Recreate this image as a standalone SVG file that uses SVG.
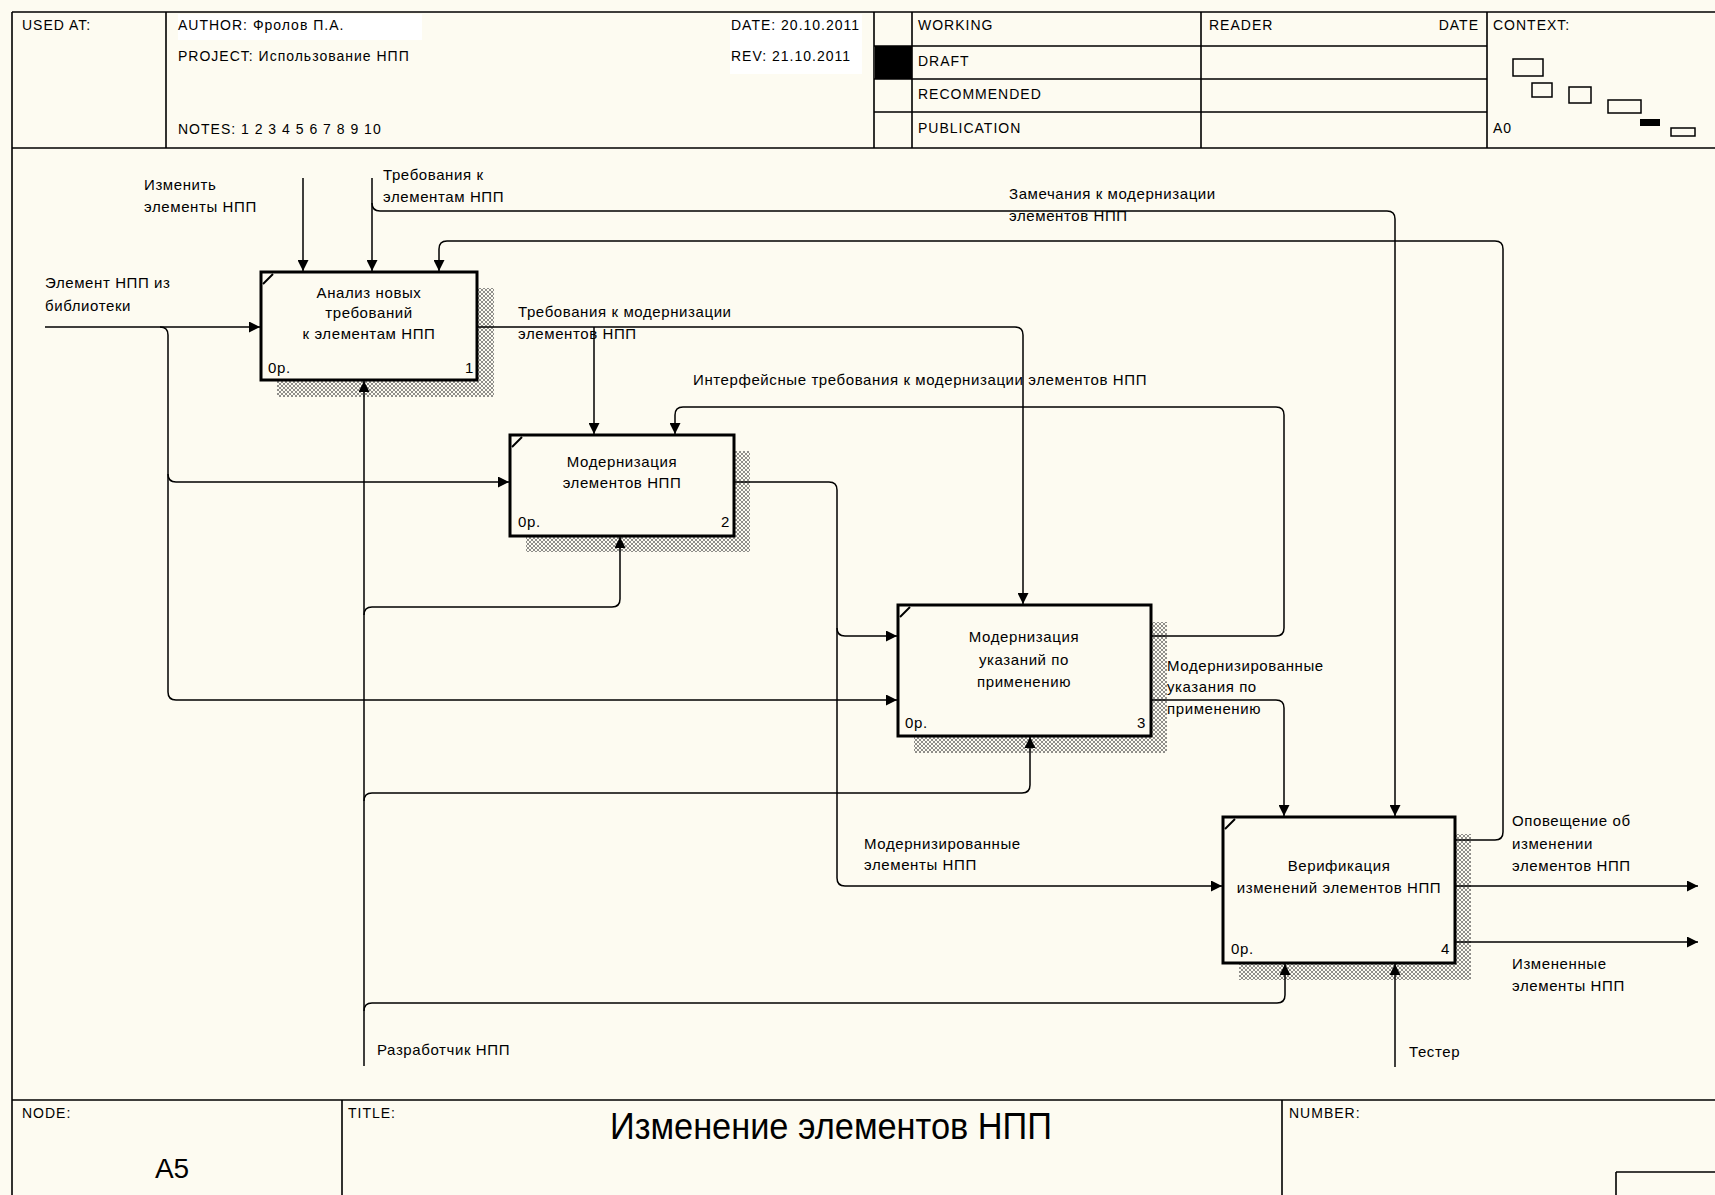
<svg xmlns="http://www.w3.org/2000/svg" width="1715" height="1195" viewBox="0 0 1715 1195">
  <style>
    .t { font-family: "Liberation Sans", Arial, sans-serif; font-size: 15px; letter-spacing: 0.6px; fill: #000; }
    .h { font-family: "Liberation Sans", Arial, sans-serif; font-size: 14px; letter-spacing: 1px; fill: #000; }
    .frame { stroke: #000; stroke-width: 1.6; fill: none; }
    .box { fill: #fdfbf1; stroke: #000; stroke-width: 3; }
    .shadow { fill: url(#hatch); }
    .corner { stroke: #000; stroke-width: 2; fill: none; }
    .arc-end { fill: none; stroke: #000; stroke-width: 1.5; marker-end: url(#arrow); }
    .mid { text-anchor: middle; }
  </style>
  <defs>
    <pattern id="hatch" width="4" height="4" patternUnits="userSpaceOnUse">
      <rect width="4" height="4" fill="#fdfbf1"/>
      <path d="M0,4 L4,0 M0,0 L4,4" stroke="#444" stroke-width="0.6"/>
    </pattern>
    <marker id="arrow" viewBox="0 0 10 10" refX="10" refY="5" markerWidth="13" markerHeight="11" markerUnits="userSpaceOnUse" orient="auto">
      <path d="M0,0 L10,5 L0,10 z" fill="#000"/>
    </marker>
  </defs>

  <rect width="1715" height="1195" fill="#fdfbf1"/>

  <!-- header block -->
  <g id="header">
    <rect x="178" y="14" width="244" height="26" fill="#ffffff"/>
    <rect x="730" y="14" width="132" height="60" fill="#ffffff"/>
    <path class="frame" d="M12,12 H1715 M12,148 H1715 M12,12 V1195 M166,12 V148"/>
    <path class="frame" d="M874,12 V148 M912,12 V148 M1201,12 V148 M1487,12 V148 M874,46 H1487 M874,79 H1487 M874,112 H1487"/>
    <rect x="875" y="46" width="37" height="33" fill="#000"/>
    <text class="h" x="22" y="30">USED AT:</text>
    <text class="h" x="178" y="30">AUTHOR: Фролов П.А.</text>
    <text class="h" x="178" y="61">PROJECT: Использование НПП</text>
    <text class="h" x="178" y="134">NOTES: 1 2 3 4 5 6 7 8 9 10</text>
    <text class="h" x="731" y="30">DATE: 20.10.2011</text>
    <text class="h" x="731" y="61">REV: 21.10.2011</text>
    <text class="h" x="918" y="30">WORKING</text>
    <text class="h" x="918" y="66">DRAFT</text>
    <text class="h" x="918" y="99">RECOMMENDED</text>
    <text class="h" x="918" y="133">PUBLICATION</text>
    <text class="h" x="1209" y="30">READER</text>
    <text class="h" x="1479" y="30" text-anchor="end">DATE</text>
    <text class="h" x="1493" y="30">CONTEXT:</text>
    <text class="h" x="1493" y="133">A0</text>
    <g fill="none" stroke="#000" stroke-width="1.5">
      <rect x="1513" y="59" width="30" height="17"/>
      <rect x="1532" y="83" width="20" height="14"/>
      <rect x="1569" y="87" width="22" height="16"/>
      <rect x="1608" y="100" width="33" height="13"/>
      <rect x="1671" y="128" width="24" height="8"/>
    </g>
    <rect x="1640" y="119" width="20" height="7" fill="#000"/>
  </g>

  <!-- footer block -->
  <g id="footer">
    <path class="frame" d="M12,1100 H1715 M342,1100 V1195 M1282,1100 V1195 M1616,1172 H1715 M1616,1172 V1195"/>
    <text class="h" x="22" y="1118">NODE:</text>
    <text class="h" x="348" y="1118">TITLE:</text>
    <text class="h" x="1289" y="1118">NUMBER:</text>
    <text x="831" y="1139" text-anchor="middle" font-family="Liberation Sans, Arial, sans-serif" font-size="36" textLength="442" lengthAdjust="spacingAndGlyphs">Изменение элементов НПП</text>
    <text x="172" y="1178" text-anchor="middle" font-family="Liberation Sans, Arial, sans-serif" font-size="28">A5</text>
  </g>

  <!-- activity boxes -->
  <g id="box1">
    <rect class="shadow" x="277" y="288" width="217" height="109"/>
    <rect class="box" x="261" y="272" width="216" height="108"/>
    <path class="corner" d="M263,284 L273,274"/>
    <text class="t mid" x="369" y="298">Анализ новых</text>
    <text class="t mid" x="369" y="318">требований</text>
    <text class="t mid" x="369" y="339">к элементам НПП</text>
    <text class="t" x="268" y="373">0р.</text>
    <text class="t" x="465" y="373">1</text>
  </g>
  <g id="box2">
    <rect class="shadow" x="526" y="451" width="224" height="101"/>
    <rect class="box" x="510" y="435" width="224" height="101"/>
    <path class="corner" d="M512,447 L522,437"/>
    <text class="t mid" x="622" y="467">Модернизация</text>
    <text class="t mid" x="622" y="488">элементов НПП</text>
    <text class="t" x="518" y="527">0р.</text>
    <text class="t" x="721" y="527">2</text>
  </g>
  <g id="box3">
    <rect class="shadow" x="914" y="622" width="253" height="131"/>
    <rect class="box" x="898" y="605" width="253" height="131"/>
    <path class="corner" d="M900,617 L910,607"/>
    <text class="t mid" x="1024" y="642">Модернизация</text>
    <text class="t mid" x="1024" y="665">указаний по</text>
    <text class="t mid" x="1024" y="687">применению</text>
    <text class="t" x="905" y="728">0р.</text>
    <text class="t" x="1137" y="728">3</text>
  </g>
  <g id="box4">
    <rect class="shadow" x="1239" y="834" width="232" height="146"/>
    <rect class="box" x="1223" y="817" width="232" height="146"/>
    <path class="corner" d="M1225,829 L1235,819"/>
    <text class="t mid" x="1339" y="871">Верификация</text>
    <text class="t mid" x="1339" y="893">изменений элементов НПП</text>
    <text class="t" x="1231" y="954">0р.</text>
    <text class="t" x="1441" y="954">4</text>
  </g>

  <!-- connectors -->
  <g id="connectors">
    <path class="arc-end" d="M303,178 V271"/>
    <path class="arc-end" d="M372,178 V271"/>
    <path class="arc-end" d="M372,203 Q372,211 380,211 H1387 Q1395,211 1395,219 V816"/>
    <path class="arc-end" d="M1456,840 H1495 Q1503,840 1503,832 V249 Q1503,241 1495,241 H447 Q439,241 439,249 V271"/>
    <path class="arc-end" d="M45,327 H260"/>
    <path class="arc-end" d="M160,327 Q168,327 168,335 V692 Q168,700 176,700 H897"/>
    <path class="arc-end" d="M168,474 Q168,482 176,482 H509"/>
    <path class="arc-end" d="M478,327 H1015 Q1023,327 1023,335 V604"/>
    <path class="arc-end" d="M594,327 V434"/>
    <path class="arc-end" d="M364,1066 V381"/>
    <path class="arc-end" d="M364,615 Q364,607 372,607 H612 Q620,607 620,599 V537"/>
    <path class="arc-end" d="M364,801 Q364,793 372,793 H1022 Q1030,793 1030,785 V737"/>
    <path class="arc-end" d="M364,1011 Q364,1003 372,1003 H1277 Q1285,1003 1285,995 V964"/>
    <path class="arc-end" d="M735,482 H829 Q837,482 837,490 V878 Q837,886 845,886 H1222"/>
    <path class="arc-end" d="M837,628 Q837,636 845,636 H897"/>
    <path class="arc-end" d="M1152,636 H1276 Q1284,636 1284,628 V415 Q1284,407 1276,407 H683 Q675,407 675,415 V434"/>
    <path class="arc-end" d="M1152,700 H1276 Q1284,700 1284,708 V816"/>
    <path class="arc-end" d="M1395,1067 V964"/>
    <path class="arc-end" d="M1456,886 H1698"/>
    <path class="arc-end" d="M1456,942 H1698"/>

    <text class="t" x="144" y="190">Изменить</text>
    <text class="t" x="144" y="212">элементы НПП</text>
    <text class="t" x="383" y="180">Требования к</text>
    <text class="t" x="383" y="202">элементам НПП</text>
    <text class="t" x="45" y="288">Элемент НПП из</text>
    <text class="t" x="45" y="311">библиотеки</text>
    <text class="t" x="1009" y="199">Замечания к модернизации</text>
    <text class="t" x="1009" y="221">элементов НПП</text>
    <text class="t" x="518" y="317">Требования к модернизации</text>
    <text class="t" x="518" y="339">элементов НПП</text>
    <text class="t" x="693" y="385">Интерфейсные требования к модернизации элементов НПП</text>
    <text class="t" x="1167" y="671">Модернизированные</text>
    <text class="t" x="1167" y="692">указания по</text>
    <text class="t" x="1167" y="714">применению</text>
    <text class="t" x="864" y="849">Модернизированные</text>
    <text class="t" x="864" y="870">элементы НПП</text>
    <text class="t" x="1512" y="826">Оповещение об</text>
    <text class="t" x="1512" y="849">изменении</text>
    <text class="t" x="1512" y="871">элементов НПП</text>
    <text class="t" x="1512" y="969">Измененные</text>
    <text class="t" x="1512" y="991">элементы НПП</text>
    <text class="t" x="377" y="1055">Разработчик НПП</text>
    <text class="t" x="1409" y="1057">Тестер</text>
  </g>
</svg>
